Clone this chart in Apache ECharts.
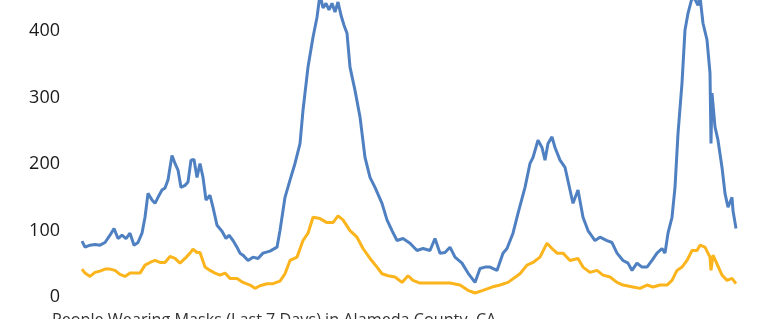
<!DOCTYPE html>
<html>
<head>
<meta charset="utf-8">
<script src="https://cdn.jsdelivr.net/npm/echarts@6/dist/echarts.min.js"></script>
<style>
  html, body { margin: 0; padding: 0; background: #fff; }
  #chart { width: 769px; height: 319px; }
</style>
</head>
<body>
<div id="chart"></div>
<script>
// day index from start of series
const blueDays = [0,3,8,13,18,23,28,32,36,40,44,48,52,56,60,63,66,70,73,76,80,83,86,88,90,93,96,99,103,106,109,112,115,118,121,124,128,131,135,140,144,147,151,155,158,161,166,171,176,181,188,195,198,203,208,213,218,221,226,231,235,238,241,244,247,250,253,256,259,262,265,268,273,278,283,288,293,300,305,310,315,321,328,335,341,348,353,358,363,368,373,380,386,393,398,403,408,415,421,425,431,436,443,448,451,456,460,463,466,470,473,478,483,488,491,496,501,506,513,518,525,530,535,541,546,550,555,560,565,570,575,580,583,586,590,593,596,600,603,606,610,613,616,618,621,625,628,629,630,633,636,640,643,646,650,651,654];
const blueValues = [84,75,78,79,78,82,93,103,88,93,88,96,78,82,96,120,156,146,141,150,161,164,176,195,213,201,191,165,168,173,206,207,180,201,180,146,153,135,108,99,88,93,85,75,66,63,55,60,58,66,69,75,100,150,176,201,231,281,346,391,421,455,435,442,432,442,429,444,424,409,397,346,311,271,210,180,165,141,116,100,85,88,81,70,73,70,88,66,67,75,60,51,36,22,43,45,45,40,66,73,96,126,165,201,210,236,225,206,231,241,225,206,195,161,141,161,120,100,85,90,85,82,66,55,51,40,51,45,45,55,66,73,66,96,120,165,246,322,402,427,450,448,439,452,412,387,337,231,307,256,236,195,156,135,150,130,103];

const orangeDays = [0,3,8,13,18,23,28,33,38,43,48,53,58,63,68,73,78,83,88,93,98,103,108,111,115,118,123,128,133,138,143,148,155,161,168,173,178,185,191,198,203,208,215,221,226,231,238,245,251,256,261,268,275,281,288,295,300,306,313,320,326,331,338,348,358,368,378,386,393,401,410,418,426,428,438,445,451,458,465,470,475,481,488,496,501,508,515,521,528,535,541,551,558,565,571,578,585,590,595,600,605,610,615,618,623,625,628,629,631,635,640,645,650,654];
const orangeValues = [42,36,31,37,39,42,42,40,34,31,36,36,36,48,52,55,52,52,61,58,51,58,66,72,67,67,45,40,36,33,36,28,28,22,18,13,17,20,20,24,35,55,60,85,96,120,118,112,112,122,116,100,90,73,58,45,35,32,30,22,32,25,21,21,21,21,18,10,6,10,15,18,22,25,35,48,52,60,81,73,66,66,55,58,45,37,40,33,30,22,18,15,13,18,15,18,18,25,40,45,55,70,70,78,75,78,60,40,63,50,33,25,28,20];

const yTicks = [0, 100, 200, 300, 400];
const chartTitle = 'People Wearing Masks (Last 7 Days) in Alameda County, CA';

const zip = (xs, ys) => xs.map((x, i) => [x, ys[i]]);

const chart = echarts.init(document.getElementById('chart'));
chart.setOption({
  animation: false,
  grid: { left: 82, right: 33, top: 0, bottom: 22 },
  xAxis: { type: 'value', min: 0, max: 654, show: false },
  yAxis: {
    type: 'value', min: 0, max: 447, interval: 100,
    axisLine: { show: false }, axisTick: { show: false }, splitLine: { show: false },
    axisLabel: {
      margin: 22, color: '#1a1a1a', fontSize: 18, fontFamily: 'Open Sans',
      formatter: (v) => (yTicks.includes(v) ? String(v) : '')
    }
  },
  graphic: [{
    type: 'text', left: 52, top: 312,
    style: { text: chartTitle, fill: '#333', font: '16.2px "Open Sans"' }
  }],
  series: [
    { type: 'line', data: zip(blueDays, blueValues), showSymbol: false,
      lineStyle: { color: '#4f80c1', width: 3 }, itemStyle: { color: '#4f80c1' } },
    { type: 'line', data: zip(orangeDays, orangeValues), showSymbol: false,
      lineStyle: { color: '#fcb41c', width: 3 }, itemStyle: { color: '#fcb41c' } }
  ]
});
</script>
</body>
</html>
